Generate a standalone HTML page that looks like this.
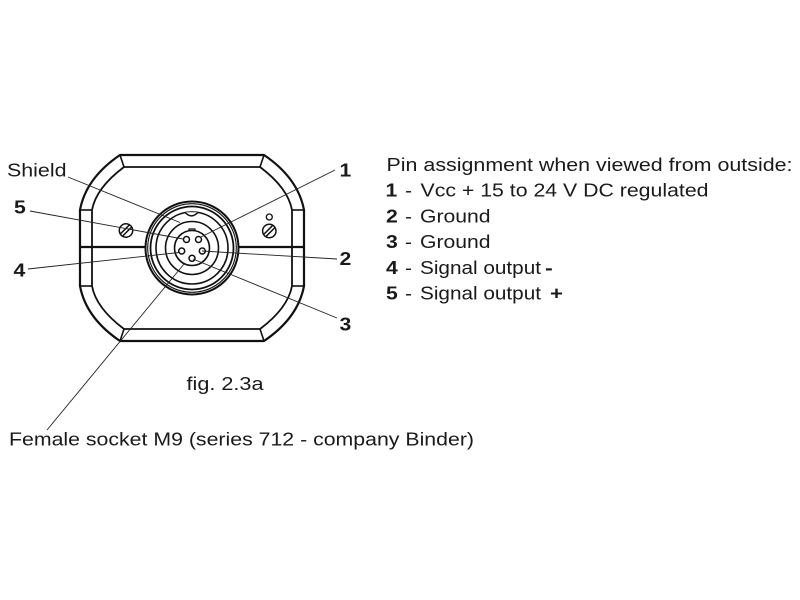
<!DOCTYPE html>
<html>
<head>
<meta charset="utf-8">
<style>
  html,body{margin:0;padding:0;background:#fff;}
  svg{display:block;}
  text{font-family:"Liberation Sans",Arial,sans-serif;font-size:18px;fill:#1a1a1a;}
  .b{font-weight:bold;}
</style>
</head>
<body>
<svg width="800" height="600" viewBox="0 0 800 600" xmlns="http://www.w3.org/2000/svg">
  <rect width="800" height="600" fill="#fff"/>

  <!-- Body outer -->
  <g fill="none" stroke="#111" stroke-linejoin="round">
    <path d="M120,155 H264 Q298,178 304,210 V286 Q298,318 264,341 H120 Q86,318 80,286 V210 Q86,178 120,155 Z" stroke-width="2.2"/>
    <!-- Body inner -->
    <path d="M124,167 H260 Q288,188 292,210 V286 Q288,308 260,329 H124 Q96,308 92,286 V210 Q96,188 124,167 Z" stroke-width="1.8"/>
    <!-- chamfer connectors -->
    <line x1="120" y1="155" x2="124" y2="167" stroke-width="1.6"/>
    <line x1="264" y1="155" x2="260" y2="167" stroke-width="1.6"/>
    <line x1="120" y1="341" x2="124" y2="329" stroke-width="1.6"/>
    <line x1="264" y1="341" x2="260" y2="329" stroke-width="1.6"/>
    <line x1="80" y1="210" x2="92" y2="210" stroke-width="1.6"/>
    <line x1="304" y1="210" x2="292" y2="210" stroke-width="1.6"/>
    <line x1="80" y1="286" x2="92" y2="286" stroke-width="1.6"/>
    <line x1="304" y1="286" x2="292" y2="286" stroke-width="1.6"/>
    <!-- center horizontal line -->
    <line x1="80" y1="247" x2="146" y2="247" stroke-width="2.2"/>
    <line x1="238" y1="247" x2="304" y2="247" stroke-width="2.2"/>
  </g>

  <!-- Connector -->
  <g fill="none" stroke="#111">
    <circle cx="192" cy="248" r="46.5" stroke-width="2" fill="#fff"/>
    <circle cx="192" cy="248" r="44.3" stroke-width="1.1"/>
    <circle cx="192" cy="248" r="41.5" stroke-width="1.8"/>
    <circle cx="192" cy="248" r="36" stroke-width="1.6"/>
    <path d="M185,212.3 Q191.5,219.5 198,212.3" stroke-width="1.5" fill="#fff"/>
    <circle cx="192" cy="248" r="26.5" stroke-width="1.6"/>
    <circle cx="192" cy="248" r="17.5" stroke-width="1.6"/>
    <path d="M189,231 V229 H195 V231" stroke-width="1.2"/>
    <circle cx="186.5" cy="239.5" r="3" stroke-width="1.5"/>
    <circle cx="198.5" cy="239.5" r="3" stroke-width="1.5"/>
    <circle cx="181.7" cy="251" r="3" stroke-width="1.5"/>
    <circle cx="202.3" cy="251" r="3" stroke-width="1.5"/>
    <circle cx="192" cy="258.3" r="3" stroke-width="1.5"/>
  </g>

  <!-- Screws -->
  <g fill="none" stroke="#111" stroke-width="1.5">
    <circle cx="126" cy="230.5" r="6.7" fill="#fff"/>
    <line x1="122.5" y1="236.2" x2="131.7" y2="227"/>
    <line x1="120.3" y1="234" x2="129.5" y2="224.8"/>
    <circle cx="269.3" cy="231" r="6.7" fill="#fff"/>
    <line x1="265.8" y1="236.7" x2="275" y2="227.5"/>
    <line x1="263.6" y1="234.5" x2="272.8" y2="225.3"/>
    <circle cx="269.3" cy="217" r="3" stroke-width="1.3"/>
  </g>

  <!-- Leader lines -->
  <g stroke="#222" stroke-width="0.9" fill="none">
    <line x1="68" y1="177" x2="180" y2="222.5"/>
    <line x1="30" y1="211" x2="183" y2="239"/>
    <line x1="28" y1="269" x2="179" y2="252.5"/>
    <line x1="335" y1="170" x2="201" y2="237"/>
    <line x1="337" y1="259" x2="202" y2="251"/>
    <line x1="337" y1="318" x2="193" y2="259"/>
    <line x1="47" y1="430" x2="184" y2="264"/>
  </g>

  <!-- Diagram labels -->
  <text x="7" y="176.7" textLength="59.5" lengthAdjust="spacingAndGlyphs">Shield</text>
  <text class="b" x="14" y="213.3" textLength="11.8" lengthAdjust="spacingAndGlyphs">5</text>
  <text class="b" x="13.5" y="276.7" textLength="11.8" lengthAdjust="spacingAndGlyphs">4</text>
  <text class="b" x="339.5" y="176.7" textLength="11.8" lengthAdjust="spacingAndGlyphs">1</text>
  <text class="b" x="339.5" y="265" textLength="11.8" lengthAdjust="spacingAndGlyphs">2</text>
  <text class="b" x="339.5" y="330.7" textLength="11.8" lengthAdjust="spacingAndGlyphs">3</text>
  <text x="186.5" y="390" textLength="77" lengthAdjust="spacingAndGlyphs">fig. 2.3a</text>
  <text x="9" y="445.7" textLength="465" lengthAdjust="spacingAndGlyphs">Female socket M9 (series 712 - company Binder)</text>

  <!-- Pin assignment list -->
  <text x="386.5" y="171" textLength="406" lengthAdjust="spacingAndGlyphs">Pin assignment when viewed from outside:</text>

  <text class="b" x="385.5" y="196.5" textLength="11.8" lengthAdjust="spacingAndGlyphs">1</text>
  <text x="405" y="196.5" textLength="7" lengthAdjust="spacingAndGlyphs">-</text>
  <text x="420.5" y="196.5" textLength="288" lengthAdjust="spacingAndGlyphs">Vcc + 15 to 24 V DC regulated</text>

  <text class="b" x="386" y="222.3" textLength="11.8" lengthAdjust="spacingAndGlyphs">2</text>
  <text x="405" y="222.3" textLength="7" lengthAdjust="spacingAndGlyphs">-</text>
  <text x="420" y="222.3" textLength="70.5" lengthAdjust="spacingAndGlyphs">Ground</text>

  <text class="b" x="386" y="248.1" textLength="11.8" lengthAdjust="spacingAndGlyphs">3</text>
  <text x="405" y="248.1" textLength="7" lengthAdjust="spacingAndGlyphs">-</text>
  <text x="420" y="248.1" textLength="70.5" lengthAdjust="spacingAndGlyphs">Ground</text>

  <text class="b" x="386" y="273.9" textLength="11.8" lengthAdjust="spacingAndGlyphs">4</text>
  <text x="405" y="273.9" textLength="7" lengthAdjust="spacingAndGlyphs">-</text>
  <text x="420" y="273.9" textLength="121" lengthAdjust="spacingAndGlyphs">Signal output</text>
  <text class="b" x="545" y="273.9" textLength="7.8" lengthAdjust="spacingAndGlyphs">-</text>

  <text class="b" x="386" y="299.7" textLength="11.8" lengthAdjust="spacingAndGlyphs">5</text>
  <text x="405" y="299.7" textLength="7" lengthAdjust="spacingAndGlyphs">-</text>
  <text x="420" y="299.7" textLength="121" lengthAdjust="spacingAndGlyphs">Signal output</text>
  <text class="b" x="550" y="299.7" textLength="13" lengthAdjust="spacingAndGlyphs">+</text>
</svg>
</body>
</html>
